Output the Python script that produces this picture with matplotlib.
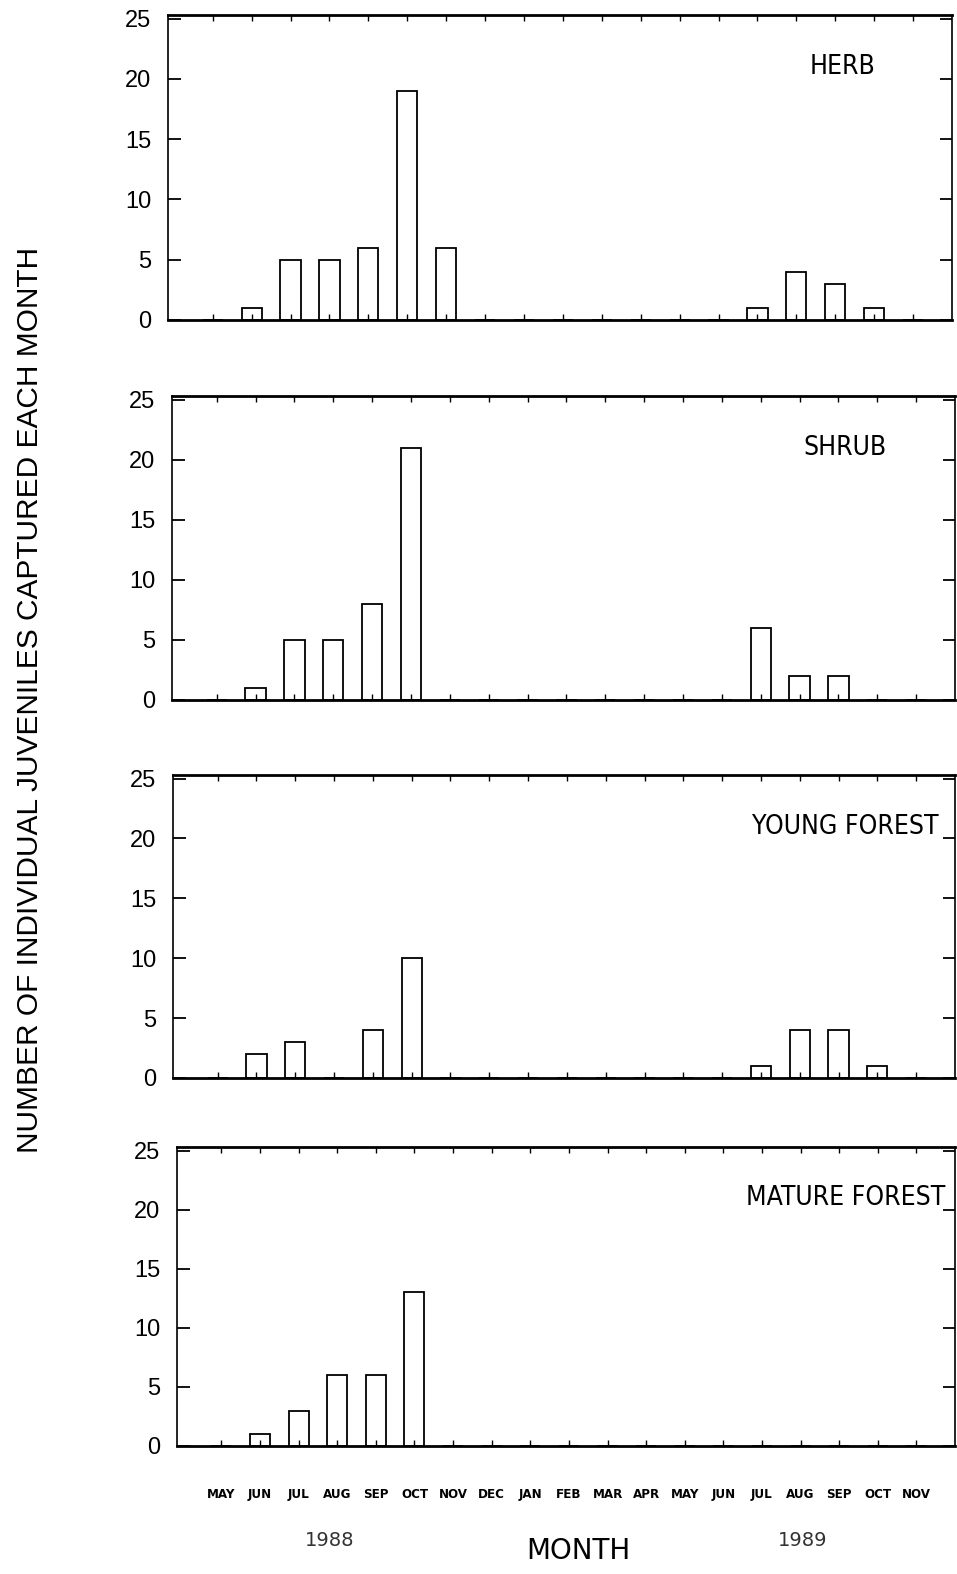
import matplotlib
matplotlib.use("Agg")
import matplotlib.pyplot as plt
import numpy as np

# months, May 1988 .. Nov 1989
months = ["MAY", "JUN", "JUL", "AUG", "SEP", "OCT", "NOV", "DEC", "JAN", "FEB",
          "MAR", "APR", "MAY", "JUN", "JUL", "AUG", "SEP", "OCT", "NOV"]

habitats = ["HERB", "SHRUB", "YOUNG FOREST", "MATURE FOREST"]

#         MY JN JL AG SP OC NV DC JA FB MR AP MY JN JL AG SP OC NV
herb   = [0, 1, 5, 5, 6, 19, 6, 0, 0, 0, 0, 0, 0, 0, 1, 4, 3, 1, 0]
shrub  = [0, 1, 5, 5, 8, 21, 0, 0, 0, 0, 0, 0, 0, 0, 6, 2, 2, 0, 0]
young  = [0, 2, 3, 0, 4, 10, 0, 0, 0, 0, 0, 0, 0, 0, 1, 4, 4, 1, 0]
mature = [0, 1, 3, 6, 6, 13, 0, 0, 0, 0, 0, 0, 0, 0, 0, 0, 0, 0, 0]

yticks = [0, 5, 10, 15, 20, 25]

counts = [herb, shrub, young, mature]

W, H = 957, 1574
fig = plt.figure(figsize=(W / 100, H / 100), dpi=100)

# panel boxes in pixels: left, top, right, bottom
boxes = [(168, 15, 952, 320),
         (172, 396, 955, 700),
         (173, 775, 955, 1078),
         (177, 1147, 955, 1446)]

label_font = "DejaVu Sans"
x = np.arange(len(months))

axes = []
for i, (name, vals) in enumerate(zip(habitats, counts)):
    l, t, r, b = boxes[i]
    ax = fig.add_axes([l / W, 1 - b / H, (r - l) / W, (b - t) / H])
    ax.bar(x, vals, width=0.52, facecolor="white", edgecolor="black", linewidth=1.3)
    ax.set_xlim(-1.15, 19.0)
    ax.set_ylim(0, 25.3)
    ax.set_yticks(yticks)
    ax.set_yticklabels([str(v) for v in yticks], fontsize=17, family="Liberation Sans")
    ax.set_xticks(x)
    ax.set_xticklabels([])
    ax.tick_params(axis="y", direction="in", length=9, width=1.3, pad=12,
                   right=True, left=True)
    ax.tick_params(axis="x", direction="in", length=4, width=1.0, top=True, bottom=True)
    for side in ["top", "bottom"]:
        ax.spines[side].set_linewidth(2.0)
    for side in ["left", "right"]:
        ax.spines[side].set_linewidth(1.2)
    ax.text(0.86, 0.83, name, transform=ax.transAxes, ha="center", va="center",
            fontsize=19, family=label_font, fontstretch="condensed")
    axes.append(ax)

# month labels under the last panel
last = axes[-1]
for xi, m in zip(x, months):
    last.text(xi, -4.1, m, ha="center", va="center", fontsize=9.5, fontweight="bold",
              family=label_font, fontstretch="condensed")

fig.text(330 / W, 1 - 1540 / H, "1988", ha="center", va="center", fontsize=14,
         family=label_font, color="#333333")
fig.text(803 / W, 1 - 1540 / H, "1989", ha="center", va="center", fontsize=14,
         family=label_font, color="#333333")
fig.text(578 / W, 1 - 1551 / H, "MONTH", ha="center", va="center", fontsize=20,
         family=label_font)

fig.text(30 / W, 1 - 700 / H, "NUMBER OF INDIVIDUAL JUVENILES CAPTURED EACH MONTH",
         rotation=90, ha="center", va="center", fontsize=21.5, family="Liberation Sans")

fig.savefig("out.png", dpi=100, facecolor="white")
